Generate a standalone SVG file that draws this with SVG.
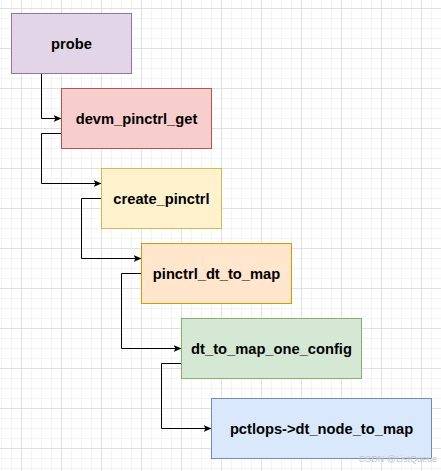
<svg xmlns="http://www.w3.org/2000/svg" width="441" height="471" viewBox="0 0 441 471">
  <style>
    .lbl { font-family: "Liberation Sans", Arial, Helvetica, sans-serif; font-weight: bold; font-size: 14.7px; fill: #000000; text-anchor: middle; }
    .edge { fill: none; stroke: #000000; stroke-width: 1; }
    .wm { font-family: "Liberation Sans", Arial, sans-serif; font-size: 9px; fill: #c4c4c4; text-anchor: end; }
  </style>
  <defs>
    <pattern id="grid" patternUnits="userSpaceOnUse" x="21" y="8" width="40" height="40">
      <path d="M10.5,0 V40 M20.5,0 V40 M30.5,0 V40 M0,10.5 H40 M0,20.5 H40 M0,30.5 H40" stroke="#f3f3f3" stroke-width="1" fill="none"/>
      <path d="M0.5,0 V40 M0,0.5 H40" stroke="#e0e0e0" stroke-width="1" fill="none"/>
    </pattern>
    <marker id="arrow" viewBox="0 0 8 7" refX="8" refY="3.5" markerWidth="8" markerHeight="7" markerUnits="userSpaceOnUse" orient="auto">
      <path d="M0,0 L8,3.5 L0,7 L2,3.5 z" fill="#000000"/>
    </marker>
  </defs>
  <rect x="0" y="0" width="441" height="471" fill="#ffffff"/>
  <rect x="0" y="0" width="441" height="471" fill="url(#grid)"/>

  <g id="connectors">
    <path class="edge" d="M41.5,73.5 V118.5 H61.5" marker-end="url(#arrow)"/>
    <path class="edge" d="M61.5,133.5 H41.5 V183.5 H101.5" marker-end="url(#arrow)"/>
    <path class="edge" d="M101.5,198.5 H81.5 V258.5 H141.5" marker-end="url(#arrow)"/>
    <path class="edge" d="M141.5,273.5 H121.5 V348.5 H181.5" marker-end="url(#arrow)"/>
    <path class="edge" d="M181.5,363.5 H161.5 V428.5 H211.5" marker-end="url(#arrow)"/>
  </g>

  <g id="node-probe">
    <rect x="11.5" y="13.5" width="120" height="60" fill="#e1d5e7" stroke="#9673a6"/>
    <text class="lbl" x="71.5" y="48.5">probe</text>
  </g>
  <g id="node-devm_pinctrl_get">
    <rect x="61.5" y="88.5" width="150" height="60" fill="#f8cecc" stroke="#b85450"/>
    <text class="lbl" x="136.5" y="123.5">devm_pinctrl_get</text>
  </g>
  <g id="node-create_pinctrl">
    <rect x="101.5" y="168.5" width="120" height="60" fill="#fff2cc" stroke="#d6b656"/>
    <text class="lbl" x="161.5" y="203.5">create_pinctrl</text>
  </g>
  <g id="node-pinctrl_dt_to_map">
    <rect x="141.5" y="243.5" width="150" height="60" fill="#ffe6cc" stroke="#d79b00"/>
    <text class="lbl" x="216.5" y="278.5">pinctrl_dt_to_map</text>
  </g>
  <g id="node-dt_to_map_one_config">
    <rect x="181.5" y="318.5" width="180" height="60" fill="#d5e8d4" stroke="#82b366"/>
    <text class="lbl" x="271.5" y="353.5">dt_to_map_one_config</text>
  </g>
  <g id="node-pctlops_dt_node_to_map">
    <rect x="211.5" y="398.5" width="220" height="60" fill="#dae8fc" stroke="#6c8ebf"/>
    <text class="lbl" x="321.5" y="433.5">pctlops-&gt;dt_node_to_map</text>
  </g>

  <text class="wm" x="437" y="462">CSDN @ListQueue</text>
</svg>
